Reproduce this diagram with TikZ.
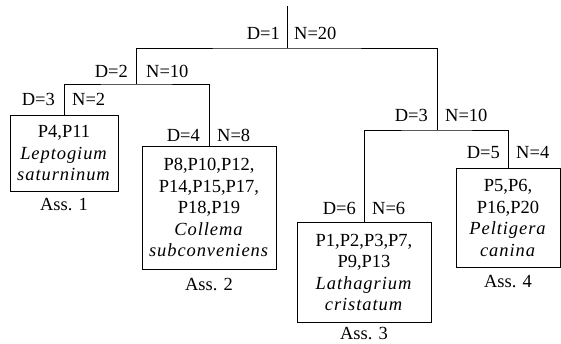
\documentclass[tikz,border=0pt]{standalone}
\usepackage{fontspec}
\setmainfont{Liberation Serif}[ItalicFeatures={LetterSpace=5}]
\newcommand{\fs}{\fontsize{18.5}{21.5}\selectfont}
\begin{document}
\begin{tikzpicture}[x=1pt,y=-1pt,
  box/.style={draw, line width=0.9pt, align=center, inner sep=3pt, font=\fs, anchor=north},
  lab/.style={font=\fs, inner sep=0pt},
  edge/.style={line width=0.9pt}]
\useasboundingbox (0,0) rectangle (561,344);

\coordinate (top) at (287,6);
\coordinate (s1) at (287,48);
\coordinate (s2) at (136,84);
\coordinate (s3) at (437,130);

\node[box, minimum width=108, minimum height=76] (a1) at (64,115)
  {P4,P11\\\textit{Leptogium}\\\textit{saturninum}};
\node[box, minimum width=134, minimum height=123] (a2) at (209,146)
  {P8,P10,P12,\\P14,P15,P17,\\P18,P19\\\textit{Collema}\\\textit{subconveniens}};
\node[box, minimum width=134, minimum height=100] (a3) at (364,222)
  {P1,P2,P3,P7,\\P9,P13\\\textit{Lathagrium}\\\textit{cristatum}};
\node[box, minimum width=104, minimum height=99] (a4) at (508,168)
  {P5,P6,\\P16,P20\\\textit{Peltigera}\\\textit{canina}};

\node[lab] (l1) at (64,205) {Ass. 1};
\node[lab] (l2) at (209,285) {Ass. 2};
\node[lab] (l3) at (364,333.5) {Ass. 3};
\node[lab] (l4) at (508,282) {Ass. 4};

\draw[edge] (top) -- (s1);
\draw[edge] (s2) |- (s1) -| (s3);
\draw[edge] (a1.north) |- (s2) -| (a2.north);
\draw[edge] (a3.north) |- (s3) -| (a4.north);

\node[lab, anchor=base east] (d1) at (280,40) {D=1};
\node[lab, anchor=base west] (n1) at (294,40) {N=20};
\node[lab, anchor=base east] (d2) at (128,78) {D=2};
\node[lab, anchor=base west] (n2) at (146,78) {N=10};
\node[lab, anchor=base east] (d3) at (55,106) {D=3};
\node[lab, anchor=base west] (n3) at (72,106) {N=2};
\node[lab, anchor=base east] (d4) at (200,142) {D=4};
\node[lab, anchor=base west] (n4) at (217,142) {N=8};
\node[lab, anchor=base east] (d5) at (428,122) {D=3};
\node[lab, anchor=base west] (n5) at (445,122) {N=10};
\node[lab, anchor=base east] (d6) at (500,159) {D=5};
\node[lab, anchor=base west] (n6) at (516,159) {N=4};
\node[lab, anchor=base east] (d7) at (356,215) {D=6};
\node[lab, anchor=base west] (n7) at (372,215) {N=6};
\end{tikzpicture}
\end{document}
